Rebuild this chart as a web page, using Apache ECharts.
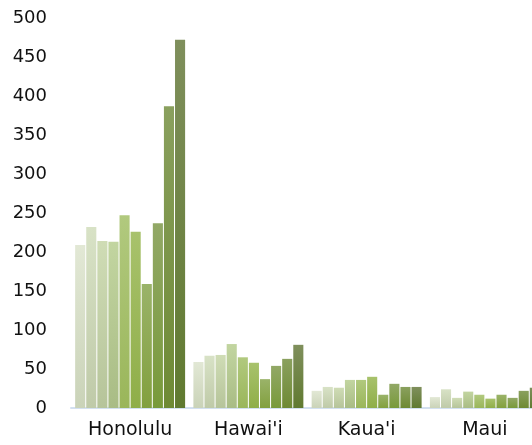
<!DOCTYPE html>
<html>
<head>
<meta charset="utf-8">
<script src="https://cdn.jsdelivr.net/npm/echarts@6/dist/echarts.min.js"></script>
<style>html,body{margin:0;padding:0;background:#fff;overflow:hidden;width:532px;height:445px;}#c{width:560px;height:445px;}</style>
</head>
<body>
<div id="c"></div>
<script>
const categories = ["Honolulu", "Hawai'i", "Kaua'i", "Maui"];
const yTicks = [0, 50, 100, 150, 200, 250, 300, 350, 400, 450, 500];
const s1 = [209, 59, 22, 14];
const s2 = [232, 67, 27, 24];
const s3 = [214, 68, 26, 13];
const s4 = [213, 82, 36, 21];
const s5 = [247, 65, 36, 17];
const s6 = [226, 58, 40, 12];
const s7 = [159, 37, 17, 17];
const s8 = [237, 54, 31, 13];
const s9 = [387, 63, 27, 22];
const s10 = [472, 81, 27, 26];
const seriesValues = [s1, s2, s3, s4, s5, s6, s7, s8, s9, s10];
const seriesNames = ["Series 1","Series 2","Series 3","Series 4","Series 5","Series 6","Series 7","Series 8","Series 9","Series 10"];

const palette = [
  ["#e2e8d5", "#cad3b8"],
  ["#d8e2c6", "#bfcaa8"],
  ["#cfdcb5", "#b6c49a"],
  ["#c2d5a0", "#a9bc85"],
  ["#b1c97e", "#9ab65a"],
  ["#a8c26c", "#8fae48"],
  ["#9ab369", "#82a03e"],
  ["#92a866", "#789a3a"],
  ["#8aa05e", "#6e8a34"],
  ["#7f8f5c", "#607a30"]
];

const chart = echarts.init(document.getElementById('c'), null, {renderer: 'canvas'});
chart.setOption({
  animation: false,
  backgroundColor: '#ffffff',
  grid: {left: 71, top: 18, width: 473, height: 390, containLabel: false},
  xAxis: {
    type: 'category',
    data: categories,
    axisLine: {show: true, lineStyle: {color: '#d3e0f0', width: 2}},
    axisTick: {show: false},
    axisLabel: {color: '#111', fontSize: 19, fontFamily: 'DejaVu Sans', margin: 13}
  },
  yAxis: {
    type: 'value',
    min: yTicks[0],
    max: yTicks[yTicks.length - 1],
    interval: 50,
    axisLine: {show: false},
    axisTick: {show: false},
    splitLine: {show: false},
    axisLabel: {color: '#111', fontSize: 18, fontFamily: 'DejaVu Sans', margin: 24}
  },
  series: seriesValues.map((vals, i) => ({
    name: seriesNames[i],
    type: 'bar',
    data: vals,
    barGap: '10%',
    barCategoryGap: '7%',
    itemStyle: {
      color: {
        type: 'linear', x: 0, y: 0, x2: 0, y2: 1,
        colorStops: [{offset: 0, color: palette[i][0]}, {offset: 1, color: palette[i][1]}]
      }
    }
  }))
});
</script>
</body>
</html>
